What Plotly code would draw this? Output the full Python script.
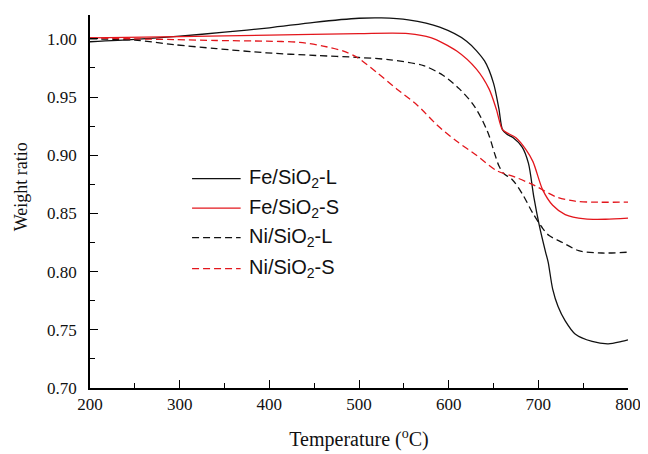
import plotly.graph_objects as go

# ---- data ----
fe_l_T = [200, 250, 300, 350, 400, 450, 500, 525, 555, 590, 620, 640, 650, 656, 660, 665, 672, 682, 689, 695, 701, 708, 711, 716, 722, 730, 741, 760, 778, 793, 800]
fe_l_W = [0.9975, 0.9995, 1.0023, 1.0057, 1.0095, 1.0142, 1.0177, 1.0180, 1.0163, 1.0100, 0.9980, 0.9810, 0.9620, 0.9400, 0.9220, 0.9180, 0.9150, 0.9070, 0.8930, 0.8640, 0.8400, 0.8170, 0.8080, 0.7850, 0.7700, 0.7576, 0.7464, 0.7400, 0.7380, 0.7400, 0.7413]

fe_s_T = [200, 300, 400, 500, 555, 580, 609, 631, 645, 653, 660, 667, 675, 686, 694, 705, 716, 730, 752, 775, 800]
fe_s_W = [1.0008, 1.0020, 1.0032, 1.0045, 1.0045, 1.0010, 0.9896, 0.9740, 0.9570, 0.9400, 0.9220, 0.9185, 0.9150, 0.9050, 0.8945, 0.8700, 0.8570, 0.8490, 0.8453, 0.8450, 0.8460]

ni_l_T = [200, 250, 294, 341, 397, 452, 500, 535, 572, 594, 612, 627, 637, 645, 651, 656, 661, 671, 682, 694, 705, 712, 727, 745, 771, 800]
ni_l_W = [1.0000, 0.9989, 0.9950, 0.9916, 0.9880, 0.9857, 0.9840, 0.9820, 0.9770, 0.9685, 0.9570, 0.9440, 0.9310, 0.9170, 0.9020, 0.8910, 0.8845, 0.8790, 0.8670, 0.8500, 0.8370, 0.8310, 0.8250, 0.8180, 0.8160, 0.8167]

ni_s_T = [200, 250, 294, 341, 397, 434, 460, 482, 498, 520, 542, 565, 587, 609, 631, 653, 675, 697, 719, 741, 761, 800]
ni_s_W = [1.0008, 1.0000, 0.9994, 0.9986, 0.9980, 0.9970, 0.9938, 0.9896, 0.9840, 0.9710, 0.9570, 0.9430, 0.9260, 0.9120, 0.9000, 0.8870, 0.8810, 0.8735, 0.8645, 0.8605, 0.8597, 0.8597]

names = ["Fe/SiO<sub>2</sub>-L", "Fe/SiO<sub>2</sub>-S", "Ni/SiO<sub>2</sub>-L", "Ni/SiO<sub>2</sub>-S"]
x_ticks = [200, 300, 400, 500, 600, 700, 800]
y_ticks = [0.70, 0.75, 0.80, 0.85, 0.90, 0.95, 1.00]
x_title = "Temperature (<sup>o</sup>C)"
y_title = "Weight ratio"

BLACK = "#111111"
RED = "#e3161c"
SERIF = "Liberation Serif"
SANS = "Liberation Sans"
styles = [(BLACK, "solid"), (RED, "solid"), (BLACK, "7px,4px"), (RED, "7px,4px")]
series = [(fe_l_T, fe_l_W), (fe_s_T, fe_s_W), (ni_l_T, ni_l_W), (ni_s_T, ni_s_W)]

fig = go.Figure()
for (T, W), name, (col, dash) in zip(series, names, styles):
    fig.add_trace(go.Scatter(x=T, y=W, mode="lines", name=name,
                             line=dict(color=col, width=1.3, dash=dash, shape="spline", smoothing=0.8),
                             showlegend=False))

# manual legend (samples + labels), in paper coordinates
leg_y = [0.5613, 0.4824, 0.4034, 0.3203]
for yy, name, (col, dash) in zip(leg_y, names, styles):
    fig.add_shape(type="line", xref="paper", yref="paper", x0=0.1897, x1=0.28, y0=yy, y1=yy,
                  line=dict(color=col, width=1.3, dash=dash))
    fig.add_annotation(xref="paper", yref="paper", x=0.291, y=yy, text=name, showarrow=False,
                       xanchor="left", yanchor="middle",
                       font=dict(family=SANS, size=20, color="#111111"))

# y-axis title (placed slightly above centre, as in the reference)
fig.add_annotation(xref="paper", yref="paper", x=-0.129, y=0.54, text=y_title, showarrow=False,
                   textangle=-90, xanchor="center", yanchor="middle",
                   font=dict(family=SERIF, size=18, color="#111111"))

tickfont = dict(family=SERIF, size=17, color="#111111")

# page body has an 8px default margin; figure sized/margined to compensate
fig.update_layout(
    width=640, height=446, margin=dict(l=82, r=15, t=7, b=59),
    paper_bgcolor="white", plot_bgcolor="white", showlegend=False,
    font=dict(family=SERIF, size=17, color="#111111"),
    xaxis=dict(
        range=[200, 800], tickmode="array", tickvals=x_ticks, ticktext=[str(v) for v in x_ticks],
        showline=True, linecolor="black", linewidth=1.5, showgrid=False, zeroline=False,
        ticks="inside", ticklen=8, tickwidth=1.3, tickcolor="black", tickfont=tickfont,
        minor=dict(dtick=50, tick0=200, ticks="inside", ticklen=5, tickwidth=1.3, tickcolor="black", showgrid=False),
        title=dict(text=x_title, font=dict(family=SERIF, size=20, color="#111111"), standoff=19),
    ),
    yaxis=dict(
        range=[0.70, 1.0205], tickmode="array", tickvals=y_ticks, ticktext=["%.2f" % v for v in y_ticks],
        showline=True, linecolor="black", linewidth=1.5, showgrid=False, zeroline=False,
        ticks="inside", ticklen=8, tickwidth=1.3, tickcolor="black", tickfont=tickfont,
        ticklabelstandoff=8,
        minor=dict(dtick=0.025, tick0=0.70, ticks="inside", ticklen=5, tickwidth=1.3, tickcolor="black", showgrid=False),
    ),
)

fig.write_html("out.html", config={"displayModeBar": False})
